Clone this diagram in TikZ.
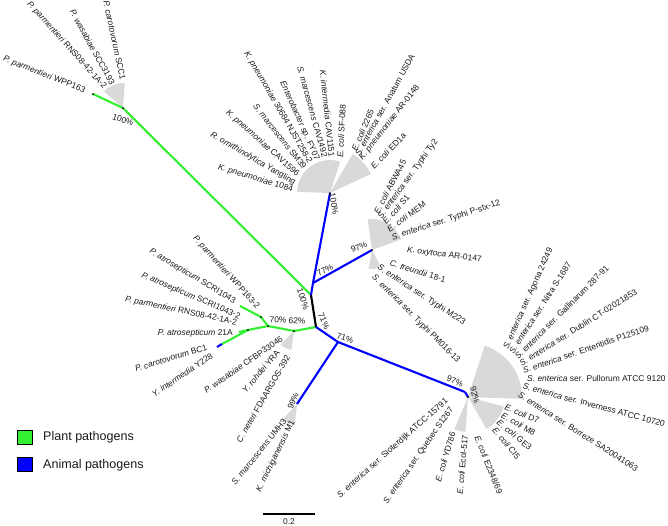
\documentclass[tikz,border=0pt]{standalone}
\usepackage{fontspec}
\setmainfont{Liberation Sans}
\definecolor{plantgreen}{RGB}{51,240,51}
\definecolor{animalblue}{RGB}{0,0,255}
\definecolor{fangray}{RGB}{217,217,217}
\newcommand{\fanwedge}[4]{\fill[fan] (#1) -- ++({-(#2)}:#4) arc[start angle={-(#2)}, end angle={-(#3)}, radius=#4] -- cycle;}
\begin{document}
\begin{tikzpicture}[x=0.03cm,y=-0.03cm,
  br/.style={line width=1.8pt},
  grn/.style={br, draw=plantgreen},
  blu/.style={br, draw=animalblue},
  blk/.style={br, draw=black},
  lab/.style={font=\fontsize{7.2}{8}\selectfont, inner sep=0pt, text=black!90},
  labE/.style={lab, anchor=east},
  labW/.style={lab, anchor=west},
  pct/.style={lab, anchor=center},
  fan/.style={fill=fangray},
  tick/.style={fill=black},
  legbox/.style={draw=black, line width=0.6pt},
  legtext/.style={font=\fontsize{10.7}{12}\selectfont, anchor=west, inner sep=0pt, text=black!90}
]
\useasboundingbox (0,0) rectangle (668,525);

% ---- tree coordinates
\coordinate (pA) at (123,108);
\coordinate (tWPP) at (93,94);
\coordinate (pX) at (311,295);
\coordinate (pY) at (316,327);
\coordinate (pN77) at (313,283);
\coordinate (pK) at (330,193);
\coordinate (p97) at (372,250);
\coordinate (pN62) at (294,331);
\coordinate (pN70) at (268,326);
\coordinate (pNa) at (261,317);
\coordinate (pSC) at (240,306);
\coordinate (pNb) at (248,330);
\coordinate (t21A) at (239,332);
\coordinate (pBC) at (222,344);
\coordinate (tY) at (217,347);
\coordinate (pN71) at (338,342);
\coordinate (p99) at (297,404);
\coordinate (p97b) at (465,392);
\coordinate (p92) at (468,397);

% ---- collapsed clades
\fanwedge{pA}{86}{139}{25}
\fanwedge{pK}{72}{178}{33}
\fanwedge{pK}{25}{60}{45}
\fanwedge{p97}{20}{98}{31}
\fanwedge{p97}{-100}{-62}{19}
\fanwedge{p99}{227}{264}{21}
\fanwedge{pN62}{225}{262}{19}
\fanwedge{p92}{-2}{72}{54}
\fanwedge{p92}{-60}{-15}{37}
\fanwedge{p92}{247}{266}{35}

% ---- branches
\draw[grn] (pA) -- (tWPP);
\draw[grn] (pA) -- (pX);
\draw[grn] (pY) -- (pN62);
\draw[grn] (pN62) -- (pN70);
\draw[grn] (pN70) -- (pNa);
\draw[grn] (pNa) -- (pSC);
\draw[grn] (pN70) -- (pNb);
\draw[grn] (pNb) -- (pBC);
\draw[grn] (pNb) -- (t21A);
\draw[blu] (pBC) -- (tY);
\draw[blk] (pX) -- (pY);
\draw[blu] (pN77) -- (pX);
\draw[blu] (pN77) -- (pK);
\draw[blu] (pN77) -- (p97);
\draw[blu] (pY) -- (pN71);
\draw[blu] (pN71) -- (p99);
\draw[blu] (pN71) -- (p97b);
\draw[blu] (p97b) -- (p92);
\foreach \c in {pA,tWPP,pN62,pN70,pNa,pNb,pK,p97,p92}{\fill[tick] (\c) circle[radius=1];}

% ---- top-left labels
\node[labE, rotate=-78] (l1) at (123,80) {\textit{P. carotovorum} SCC1};
\node[labE, rotate=-61] (l2) at (113,84) {\textit{P. wasabiae} SCC3193};
\node[labE, rotate=-48] (l3) at (105,88) {\textit{P. parmentieri} RNS08-42-1A-2};
\node[labE, rotate=-21.5] (l4) at (85,91) {\textit{P. parmentieri} WPP163};

% ---- upper clade labels
\node[labE, rotate=-17] (k1) at (293,190) {\textit{K. pneumoniae} 1084};
\node[labE, rotate=-30] (k2) at (295,183) {\textit{R. ornithinolytica} Yangling};
\node[labE, rotate=-41.6] (k3) at (298,175) {\textit{K. pneumoniae} CAV1596};
\node[labE, rotate=-51.6] (k4) at (305,168) {\textit{S. marcescens} SM39};
\node[labE, rotate=-60] (k5) at (310,163) {\textit{K. pneumoniae} 30684 NJST258-2};
\node[labE, rotate=-66] (k6) at (317,160) {\textit{Enterobacter} sp. FY07};
\node[labE, rotate=-74.5] (k7) at (325,157) {\textit{S. marcescens} CAV1492};
\node[labE, rotate=-84] (k8) at (332,157) {\textit{K. intermedia} CAV1151};
\node[labW, rotate=87] (k9) at (340,158) {\textit{E. coli} SF-088};
\node[labW, rotate=67] (kr1) at (354,151) {\textit{E. coli} 2265};
\node[labW, rotate=61] (kr2) at (357,155) {\textit{S. enterica} ser. Anatum USDA};
\node[labW, rotate=52] (kr3) at (361,159) {\textit{K. pneumoniae} AR-0148};
\node[labW, rotate=46] (kr4) at (372,168) {\textit{E. coli} ED1a};

% ---- 97% clade labels
\node[labW, rotate=62] (m1) at (376,213) {\textit{E. coli} ABWA45};
\node[labW, rotate=54] (m2) at (380,218) {\textit{S. enterica} ser. Typhi Ty2};
\node[labW, rotate=48] (m3) at (384,223) {\textit{E. coli} S1};
\node[labW, rotate=36] (m4) at (388,230) {\textit{E. coli} MEM};
\node[labW, rotate=18] (m5) at (392,238) {\textit{S. enterica} ser. Typhi P-stx-12};
\node[labW, rotate=-7.6] (m6) at (407,250) {\textit{K. oxytoca} AR-0147};
\node[labW, rotate=-17] (m7) at (390,263) {\textit{C. freundii} 18-1};
\node[labW, rotate=-33] (m8) at (378,267) {\textit{S. enterica} ser. Typhi M223};
\node[labW, rotate=-45] (m9) at (373,276) {\textit{S. enterica} ser. Typhi PM016-13};

% ---- plant cluster labels
\node[labE, rotate=-48] (p1) at (258,308) {\textit{P. parmentieri} WPP163-2};
\node[labE, rotate=-31] (p2) at (235,302) {\textit{P. atrosepticum} SCRI1043};
\node[labE, rotate=-23] (p3) at (240,317) {\textit{P. atrosepticum} SCRI1043-2};
\node[labE, rotate=-12] (p4) at (237,323) {\textit{P. parmentieri} RNS08-42-1A-2};
\node[labE, rotate=0] (p5) at (233,333) {\textit{P. atrosepticum} 21A};
\node[labE, rotate=17] (p6) at (207,347) {\textit{P. carotovorum} BC1};
\node[labE, rotate=34] (p7) at (212,355) {\textit{Y. intermedia} Y228};
\node[labE, rotate=34.5] (p8) at (282,338) {\textit{P. wasabiae} CFBP33046};
\node[labE, rotate=50] (p9) at (278,351) {\textit{Y. rohdei} YRA};
\node[labE, rotate=60] (p10) at (288,356) {\textit{C. neteri} FDAARGOS-392};
\node[labE, rotate=51] (p11) at (285,420) {\textit{S. marcescens} UMH3};
\node[labE, rotate=64] (p12) at (293,421) {\textit{K. michiganensis} M1};

% ---- bottom labels
\node[labE, rotate=41.7] (b1) at (447,400) {\textit{S. enterica} ser. Sloterdijk ATCC-15791};
\node[labE, rotate=55] (b2) at (452,408) {\textit{S. enterica} ser. Quebec S1267};
\node[labE, rotate=73] (b3) at (453,432) {\textit{E. coli} YD786};
\node[labE, rotate=85] (b4) at (465,435) {\textit{E. coli} Ecol-517};
\node[labW, rotate=-68] (b5) at (477,436) {\textit{E. coli} E2348/69};
\node[labW, rotate=-22] (e1) at (505,407) {\textit{E. coli} D7};
\node[labW, rotate=-29] (e2) at (502,415) {\textit{E. coli} M8};
\node[labW, rotate=-40] (e3) at (498,421) {\textit{E. coli} GE3};
\node[labW, rotate=-51] (e4) at (494,428) {\textit{E. coli} CI5};

% ---- Salmonella clade labels
\node[labW, rotate=66] (s1) at (506,349) {\textit{S. enterica} ser. Agona 24249};
\node[labW, rotate=57] (s2) at (511,353) {\textit{S. enterica} ser. Nitra S-1687};
\node[labW, rotate=45] (s3) at (516,358) {\textit{S. enterica} ser. Gallinarum 287-91};
\node[labW, rotate=32] (s4) at (520,364) {\textit{S. enterica} ser. Dublin CT-02021853};
\node[labW, rotate=19] (s5) at (523,371) {\textit{S. enterica} ser. Enteritidis P125109};
\node[labW, rotate=0] (s6) at (527,378) {\textit{S. enterica} ser. Pullorum ATCC 9120};
\node[labW, rotate=-15] (s7) at (523,386) {\textit{S. enterica} ser. Inverness ATCC 10720};
\node[labW, rotate=-32.5] (s8) at (519,394) {\textit{S. enterica} ser. Borreze SA20041063};

% ---- support values
\node[pct, rotate=-18] (q1) at (123,120) {100\%};
\node[pct, rotate=-80] (q2) at (334,204) {100\%};
\node[pct, rotate=22] (q3) at (359,247) {97\%};
\node[pct, rotate=28] (q4) at (325,270) {77\%};
\node[pct, rotate=-72] (q5) at (303,299) {100\%};
\node[pct, rotate=-66] (q6) at (324,321) {71\%};
\node[pct, rotate=-17] (q7) at (345,338) {71\%};
\node[pct, rotate=-5] (q8) at (278,320) {70\%};
\node[pct, rotate=-5] (q9) at (297,321) {62\%};
\node[pct, rotate=68] (q10) at (293,401) {99\%};
\node[pct, rotate=-22] (q11) at (455,381) {97\%};
\node[pct, rotate=-75] (q12) at (475,395) {92\%};

% ---- legend
\draw[legbox, fill=plantgreen] (17,430) rectangle (32,444);
\draw[legbox, fill=animalblue] (17,457) rectangle (32,471);
\node[legtext] (lg1) at (43,437) {Plant pathogens};
\node[legtext] (lg2) at (43,465) {Animal pathogens};

% ---- scale bar
\coordinate (sb1) at (263,514);
\coordinate (sb2) at (315,514);
\draw[line width=1.5pt] (sb1) -- (sb2);
\node[pct] (sbl) at (289,521.5) {0.2};
\end{tikzpicture}
\end{document}
